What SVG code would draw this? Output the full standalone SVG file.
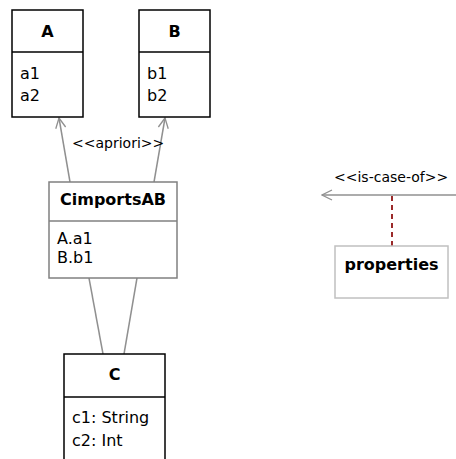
<svg xmlns="http://www.w3.org/2000/svg" width="456" height="459" viewBox="0 0 456 459">
<style>
text{font-family:"DejaVu Sans",Verdana,sans-serif;font-size:16px;fill:#000}
.t{font-weight:bold;text-anchor:middle}
.lbl{font-size:14px}
.box{fill:#fff;stroke:#000;stroke-width:1.5}
.gbox{fill:#fff;stroke:#808080;stroke-width:1.5}
.lbox{fill:#fff;stroke:#c0c0c0;stroke-width:1.5}
.conn{fill:none;stroke:#909090;stroke-width:1.5}
</style>
<defs>
<marker id="open" viewBox="0 0 12 12" refX="11" refY="6" markerWidth="12" markerHeight="12" markerUnits="userSpaceOnUse" orient="auto">
<path d="M1,1 L11,6 L1,11" fill="none" stroke="#909090" stroke-width="1.3"/>
</marker>
</defs>
<g id="connectors">
<line class="conn" x1="70" y1="182" x2="59" y2="118" marker-end="url(#open)"/>
<line class="conn" x1="154" y1="182" x2="165" y2="118" marker-end="url(#open)"/>
<text class="lbl" x="72" y="148">&lt;&lt;apriori&gt;&gt;</text>
<line class="conn" x1="89" y1="278" x2="103" y2="354"/>
<line class="conn" x1="137" y1="278" x2="124" y2="354"/>
<line class="conn" x1="456" y1="195" x2="322" y2="195" marker-end="url(#open)"/>
<text class="lbl" x="334" y="182">&lt;&lt;is-case-of&gt;&gt;</text>
<line x1="392" y1="196" x2="392" y2="246" stroke="#9b2a2a" stroke-width="2" stroke-dasharray="5,4"/>
</g>
<g id="A">
<rect class="box" x="12" y="10" width="71" height="107"/>
<line x1="12" y1="52" x2="83" y2="52" stroke="#000" stroke-width="1.5"/>
<text class="t" x="47.5" y="37">A</text>
<text x="20" y="79">a1</text>
<text x="20" y="101">a2</text>
</g>
<g id="B">
<rect class="box" x="139" y="10" width="71" height="107"/>
<line x1="139" y1="52" x2="210" y2="52" stroke="#000" stroke-width="1.5"/>
<text class="t" x="174.5" y="37">B</text>
<text x="147" y="79">b1</text>
<text x="147" y="101">b2</text>
</g>
<g id="CimportsAB">
<rect class="gbox" x="49" y="182" width="128" height="96"/>
<line x1="49" y1="221" x2="177" y2="221" stroke="#808080" stroke-width="1.5"/>
<text class="t" x="113" y="205">CimportsAB</text>
<text x="57" y="244">A.a1</text>
<text x="57" y="263">B.b1</text>
</g>
<g id="C">
<rect class="box" x="64" y="354" width="101" height="120"/>
<line x1="64" y1="397" x2="165" y2="397" stroke="#000" stroke-width="1.5"/>
<text class="t" x="114.5" y="380">C</text>
<text x="72" y="423">c1: String</text>
<text x="72" y="446">c2: Int</text>
</g>
<g id="properties">
<rect class="lbox" x="335" y="246" width="113" height="52"/>
<text class="t" x="391.5" y="270">properties</text>
</g>
</svg>
